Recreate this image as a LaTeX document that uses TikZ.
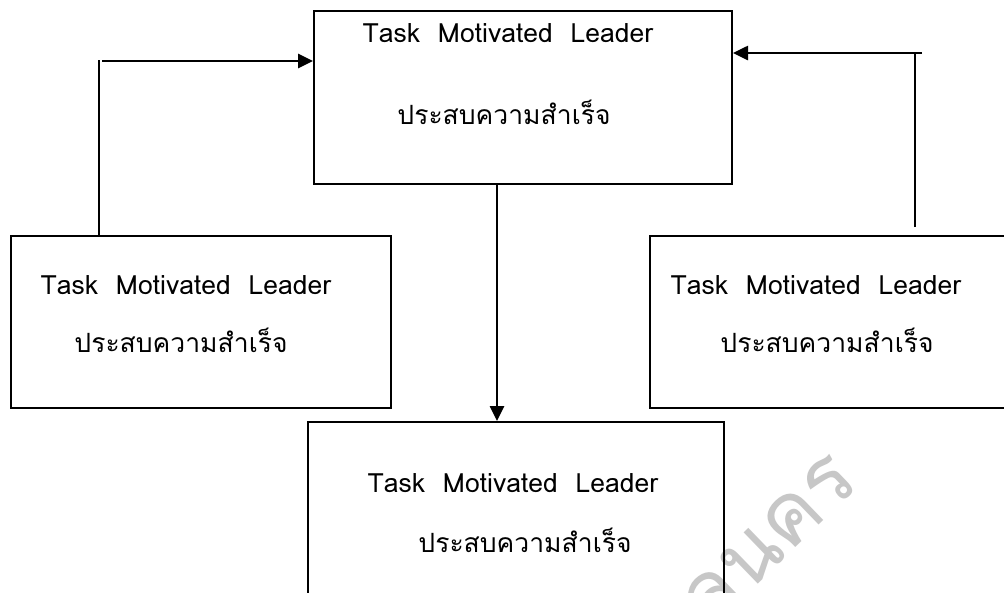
\documentclass[tikz,border=0pt]{standalone}
\usepackage{fontspec}
\setmainfont[Script=Thai]{Loma}
\usetikzlibrary{arrows.meta}
\tikzset{
  box/.style={draw=black, line width=2pt, anchor=north west, inner sep=0pt},
  txt/.style={inner sep=0pt, font=\fontsize{26.5pt}{30pt}\selectfont},
  thin/.style={draw=black, line width=1.4pt},
  arr/.style={draw=black, line width=2.6pt, -{Triangle[length=15pt,width=14pt]}},
  wm/.style={text=black!22, font=\fontsize{84pt}{86pt}\selectfont, rotate=44, inner sep=0pt}
}
\begin{document}
\begin{tikzpicture}[x=1pt,y=-1pt]
\useasboundingbox (0,0) rectangle (1004,592);
\clip (0,0) rectangle (1004,592);
\fill[white] (0,0) rectangle (1004,592);
% watermark
\node[wm, anchor=base east] (wmark) at (862,484) {สกลนคร};
% boxes
\node[box, minimum width=418pt, minimum height=173pt] (tbox) at (313,10) {};
\node[box, minimum width=380pt, minimum height=172pt] (lbox) at (10,235) {};
\node[box, minimum width=370pt, minimum height=172pt] (rbox) at (649,235) {};
\node[box, minimum width=416pt, minimum height=190pt] (bbox) at (307,421) {};
% texts
\node[txt] (t1) at (508,33) {Task\ \ Motivated\ \ Leader};
\node[txt] (t2) at (504,112) {ประสบความสำเร็จ};
\node[txt] (l1) at (186,285) {Task\ \ Motivated\ \ Leader};
\node[txt] (l2) at (181,340) {ประสบความสำเร็จ};
\node[txt] (r1) at (816,285) {Task\ \ Motivated\ \ Leader};
\node[txt] (r2) at (827,340) {ประสบความสำเร็จ};
\node[txt] (b1) at (513,483) {Task\ \ Motivated\ \ Leader};
\node[txt] (b2) at (525,540) {ประสบความสำเร็จ};
% connectors
\coordinate (lc) at (99,60);
\coordinate (lh) at (102,61);
\draw[thin] (lc) -- (lc |- lbox.north);
\draw[arr] (lh) -- (lh -| tbox.west);
\coordinate (rc) at (915,53);
\coordinate (rh) at (922,53);
\coordinate (rend) at (915,227);
\draw[thin] (rend) -- (rc);
\draw[arr] (rh) -- (rh -| tbox.east);
\coordinate (mc) at (497,0);
\draw[arr] (mc |- tbox.south) -- (mc |- bbox.north);
\end{tikzpicture}
\end{document}
